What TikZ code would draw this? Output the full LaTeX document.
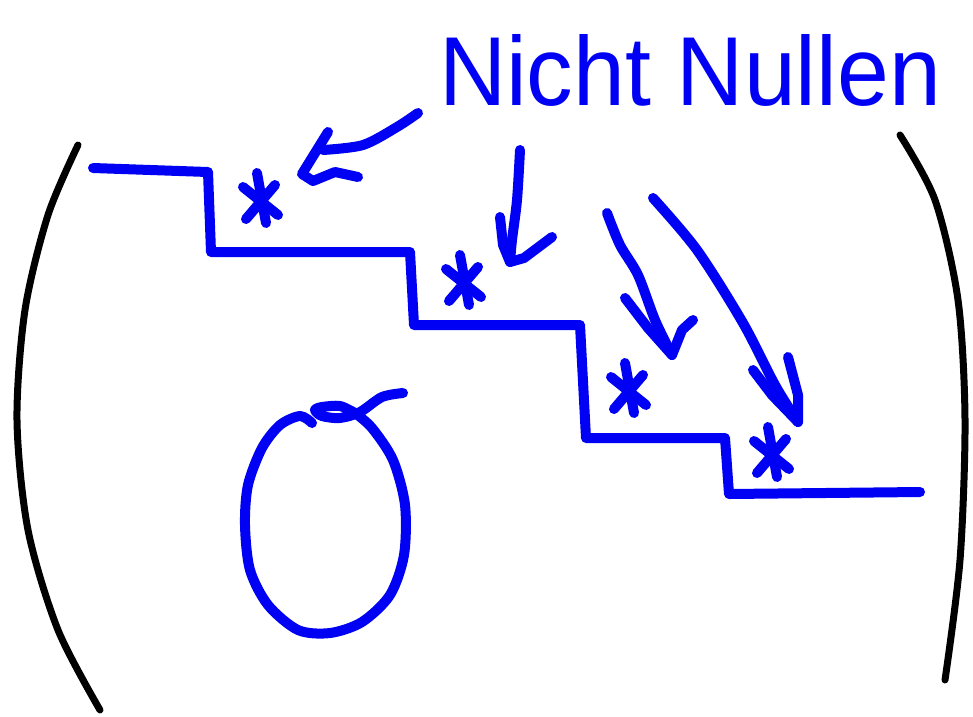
\documentclass[tikz,border=0pt]{standalone}
\usepackage{fontspec}
\setmainfont{Liberation Sans}
\definecolor{ink}{RGB}{0,0,245}
\tikzset{
  pen/.style={ink, line width=10pt, line cap=round, line join=round},
  bracket/.style={black, line width=7pt, line cap=round, line join=round},
  ast/.pic={
    \draw[pen] (-4,-26) -- (5,24);
    \draw[pen] (-18,-12) -- (17,16);
    \draw[pen] (14,-14) -- (-15,20);
  }
}
\begin{document}
\begin{tikzpicture}[x=1pt,y=-1pt]
\useasboundingbox (0,0) rectangle (973,716);

% brackets
\draw[bracket] plot[smooth] coordinates {(78,145) (48,215) (25,310) (17,420) (28,530) (58,630) (100,710)};
\draw[bracket] plot[smooth] coordinates {(900,135) (935,200) (958,300) (965,420) (960,560) (945,680)};

% staircase
\draw[pen] (93,168) -- (208,172) -- (211,252) -- (410,252) -- (414,325) -- (580,325)
  -- (586,438) -- (725,438) -- (729,494) -- (920,492);

% marks on the steps
\pic at (261,199) {ast};
\pic at (464,281) {ast};
\pic at (629,389) {ast};
\pic at (772,453) {ast};

% label
\node[ink, inner sep=0pt, xscale=0.95] (label) at (690,70)
  {\fontsize{98}{98}\selectfont Nicht Nullen};

% arrows pointing to the marks
\coordinate (h1) at (302,174);
\draw[pen] plot[smooth] coordinates {(418,113) (397,127) (363,145) (323,150)};
\draw[pen] (328,132) -- (h1) -- (313,181) -- (335,172) -- (358,177);

\coordinate (h2) at (510,262);
\draw[pen] plot[smooth] coordinates {(520,150) (517,200) (512,240) (h2)};
\draw[pen] (500,217) -- (503,245) -- (h2) -- (524,258) -- (552,237);

\coordinate (h3) at (672,355);
\draw[pen] plot[smooth] coordinates {(607,213) (620,245) (638,275) (655,320) (h3)};
\draw[pen] (625,298) -- (648,328) -- (h3) -- (682,330) -- (693,320);

\coordinate (h4) at (798,422);
\draw[pen] plot[smooth] coordinates {(653,198) (697,250) (743,323) (775,385) (h4)};
\draw[pen] (753,370) -- (772,395) -- (h4) -- (798,395) -- (788,357);

% oval
\draw[pen] plot[smooth] coordinates {(312,423) (300,416) (280,425) (262,448) (248,485)
  (245,525) (250,570) (268,605) (298,630) (330,633) (362,622) (390,595) (404,555)
  (405,505) (393,460) (372,428) (355,413)};
\draw[pen] plot[smooth] coordinates {(355,413) (340,406) (322,407) (315,410) (322,416) (340,418) (360,412) (382,397) (403,393)};
\end{tikzpicture}
\end{document}
